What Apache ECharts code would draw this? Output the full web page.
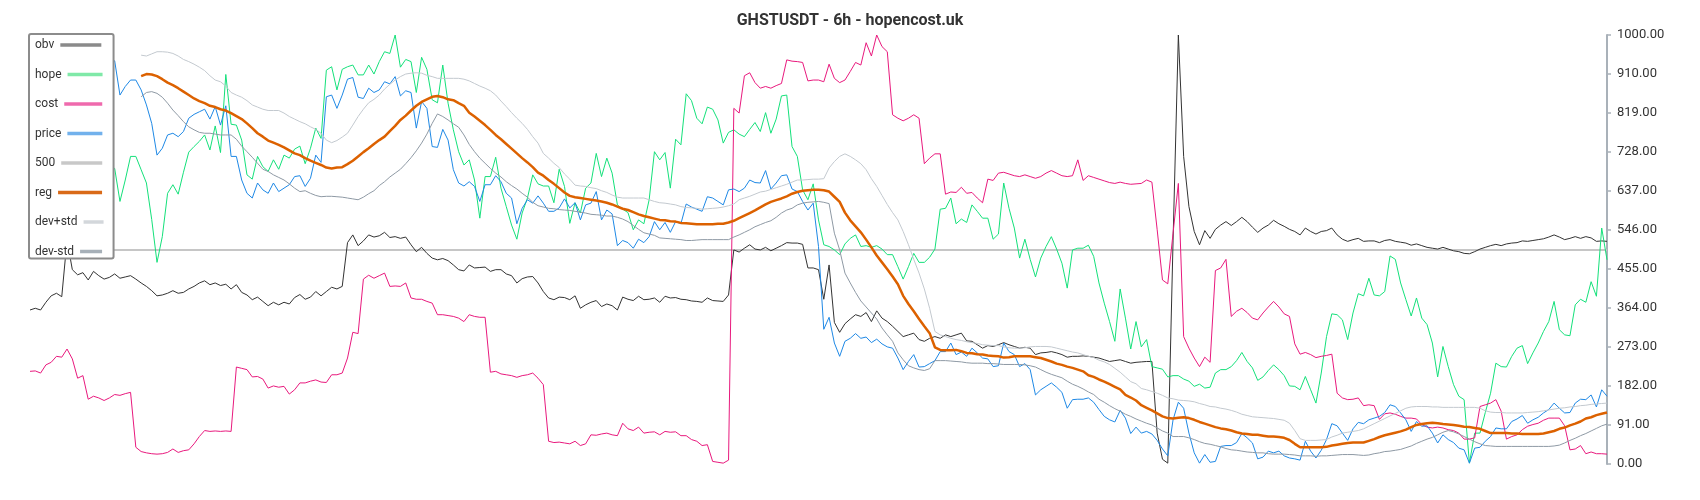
<!DOCTYPE html>
<html>
<head>
<meta charset="utf-8">
<script src="https://cdn.jsdelivr.net/npm/echarts@6/dist/echarts.min.js"></script>
<style>html,body{margin:0;padding:0;background:#fff}#chart{width:1700px;height:500px}</style>
</head>
<body>
<div id="chart"></div>
<script>
const TITLE = 'GHSTUSDT - 6h - hopencost.uk';
const SERIES_NAMES = ['obv', 'hope', 'cost', 'price', '500', 'reg', 'dev+std', 'dev-std'];
const Y_MIN = 0, Y_MAX = 1000, Y_STEP = 91;
const LEVEL_500 = 500;
const POINT_COUNT = 299;
const categories = [];
for (let i = 0; i < POINT_COUNT; i++) categories.push(String(i));

const obv = [
359,363,359,377,392,398,390,522,453,441,
446,429,449,439,431,435,443,433,436,439,
431,422,414,404,392,394,398,404,398,400,
408,414,422,427,418,422,416,419,408,418,
400,394,383,389,379,369,377,371,377,373,
388,395,
384,389,402,392,402,412,408,414,516,534,
509,520,534,529,532,540,528,530,526,529,
511,495,505,491,480,476,479,474,464,453,
450,464,457,458,459,449,453,453,443,439,
422,432,436,437,422,402,387,383,389,388,
383,
392,363,371,377,381,367,373,369,359,389,
384,381,391,383,384,387,377,391,387,388,
384,383,380,379,377,387,381,380,379,394,
499,494,503,511,501,499,505,497,503,509,
516,515,515,512,457,457,453,384,464,330,
307,
327,338,348,344,353,332,357,340,332,321,
309,297,301,305,290,286,293,297,293,301,
297,301,305,287,286,278,270,276,274,278,
283,278,274,270,272,270,255,259,260,262,
259,255,249,251,251,252,251,249,
247,243,239,241,243,239,235,237,238,239,
239,72,11,2,520,1000,717,600,542,511,
544,526,547,557,565,556,565,575,565,552,
540,550,557,568,560,554,547,542,534,550,
542,536,542,544,550,534,524,519,523,526,
519,520,520,516,
521,523,519,517,515,510,513,509,505,503,
501,505,501,497,495,491,490,495,501,505,
509,512,509,513,515,516,520,519,521,523,
525,529,534,529,523,526,530,526,530,527,
519,520,519
];

const hope = [
700,712,690,722,740,735,758,745,730,716,702,690,706,720,700,
693,689,612,662,717,717,686,655,570,470,
530,631,651,629,680,727,740,752,767,732,
788,726,908,792,790,755,674,664,717,693,
682,709,687,720,713,734,741,
700,736,783,759,918,926,872,920,926,930,
907,907,930,909,938,961,957,1000,925,943,
938,866,948,920,849,842,930,841,779,728,
697,709,662,573,670,670,715,643,600,557,
524,585,620,674,653,648,648,609,687,647,
561,
609,585,643,655,724,670,713,678,604,594,
586,546,569,560,616,728,709,726,643,757,
744,863,847,806,793,832,827,802,748,773,
779,769,763,780,796,775,819,771,804,858,
860,740,717,639,616,653,569,511,507,499,
488,
513,526,534,507,509,505,509,501,488,488,
460,431,460,491,470,470,482,501,594,596,
620,560,571,563,604,589,573,573,524,536,
655,596,550,480,524,477,436,480,507,530,
501,468,410,499,503,503,510,484,
422,375,332,286,408,340,268,332,273,290,
227,224,221,203,206,206,198,193,181,186,
177,179,212,220,220,227,241,260,239,224,
195,203,218,231,220,206,182,181,173,204,
173,142,212,297,350,348,336,290,352,397,
392,433,394,392,
402,485,477,422,383,345,387,340,325,282,
203,274,227,185,158,150,2,72,72,120,
165,235,227,226,251,270,276,234,259,282,
309,332,379,313,301,299,371,384,377,425,
391,550,476
];

const cost = [
216,217,212,231,237,251,249,268,245,200,
206,151,158,154,148,154,162,160,164,167,
39,29,26,24,23,24,27,35,27,31,
33,47,64,78,76,77,76,77,76,226,
223,220,203,204,198,177,182,179,181,163,
173,189,
189,193,196,191,190,208,208,212,247,307,
304,431,440,433,439,445,414,415,414,422,
387,384,384,379,375,348,348,346,344,340,
332,348,344,342,342,214,216,210,208,206,
202,206,208,212,200,185,53,50,51,49,
47,
53,43,47,68,67,70,72,68,66,95,
82,78,86,72,74,75,68,76,74,75,
66,66,57,53,43,45,6,4,2,9,
829,818,905,912,889,876,880,876,882,887,
942,939,938,936,893,895,895,891,932,899,
889,
895,915,936,930,982,951,1000,973,961,814,
806,800,806,814,806,700,713,723,723,629,
634,633,645,631,633,620,609,664,661,678,
680,676,672,670,674,670,666,670,678,684,
678,672,670,672,709,661,672,668,
664,660,656,654,657,654,652,653,654,662,
657,546,429,420,538,654,297,270,247,227,
249,237,451,457,477,344,356,363,353,340,
336,352,366,379,366,350,344,280,256,260,
255,248,251,253,256,165,154,150,151,154,
136,138,136,104,
117,119,116,111,107,107,105,92,86,84,
86,84,80,78,72,58,58,61,134,138,
142,150,123,58,64,68,80,88,92,95,
102,107,107,107,89,33,35,43,24,28,
24,24,23
];

const price = [
905,915,930,920,908,925,940,930,915,925,935,920,930,940,935,
936,940,860,880,895,895,872,837,794,720,
736,767,771,763,775,806,815,821,827,804,
833,790,835,717,717,662,631,620,655,639,
631,655,635,643,651,670,672,
647,666,720,703,856,860,829,860,897,901,
855,852,876,866,872,891,886,903,858,870,
866,783,845,829,740,738,780,755,686,655,
648,658,647,612,651,651,672,658,631,620,
560,596,616,608,625,608,589,589,597,618,
597,
609,569,604,608,635,569,592,583,509,521,
516,503,524,516,530,565,546,563,540,565,
560,606,599,594,589,623,620,612,604,639,
641,635,643,662,656,655,684,641,655,672,
674,641,635,612,592,608,507,314,342,282,
251,
286,293,304,293,296,283,291,280,273,270,
247,220,239,255,226,227,234,241,262,262,
282,255,261,251,270,259,247,245,227,229,
282,262,255,227,234,220,161,173,181,189,
179,167,130,150,151,151,154,144,
127,111,103,98,125,107,71,86,72,76,
70,55,35,19,103,144,130,72,26,2,
22,4,6,41,43,43,50,71,61,49,
12,16,30,26,30,19,14,12,9,53,
30,14,32,57,94,89,72,55,82,97,
94,103,107,111,
120,138,134,119,103,76,99,88,89,72,
49,68,57,50,37,33,2,37,39,53,
64,84,82,82,99,105,113,95,103,109,
119,127,142,130,119,120,142,151,150,161,
133,173,158
];

const reg = [
null,null,null,null,null,null,null,null,null,null,
null,null,null,null,null,null,null,null,null,null,null,
904,909,908,904,897,889,883,876,868,860,
852,846,841,835,832,827,824,818,811,804,
794,783,771,763,754,749,744,738,731,724,
720,
713,707,702,697,691,689,691,692,699,707,
717,727,736,746,755,763,776,788,802,812,
824,835,844,850,856,858,855,850,848,841,
835,819,810,800,790,779,767,757,746,735,
724,713,703,692,679,672,662,653,643,633,
625,
622,620,618,616,614,612,609,605,600,595,
592,587,582,578,575,572,569,568,566,565,
562,561,560,559,559,559,559,560,560,563,
567,573,579,585,591,598,605,611,615,619,
624,630,634,637,638,639,639,638,635,623,
611,
586,568,554,540,523,505,486,470,454,437,
419,392,373,356,338,321,305,272,266,265,
265,266,263,259,258,256,255,253,252,251,
248,249,251,251,251,251,249,247,243,239,
234,231,227,224,220,216,207,203,
197,192,186,180,174,161,155,148,137,131,
125,118,111,107,106,108,109,107,103,98,
94,90,86,83,81,78,74,71,70,68,
68,66,64,64,63,61,56,47,39,39,
39,39,39,40,43,45,47,49,50,50,
50,54,58,63,
67,70,73,76,80,86,91,93,95,96,
95,93,92,91,89,87,86,84,82,77,
72,72,72,72,71,71,70,70,70,70,
71,74,77,82,85,90,94,99,106,109,
114,117,120
];

const devPlus = [
null,null,null,null,null,null,null,null,null,null,
null,null,null,null,null,null,null,null,null,null,null,
953,951,956,961,961,960,957,951,943,938,
932,925,917,905,895,891,881,866,860,855,
847,837,832,827,824,824,824,818,810,804,
798,
793,786,780,771,755,749,754,762,771,790,
810,827,842,850,860,874,885,895,903,909,
911,912,911,906,903,899,899,899,899,899,
897,893,887,881,876,870,860,846,833,819,
806,794,780,763,748,724,713,701,691,676,
664,
650,648,647,644,642,637,633,627,622,620,
620,620,620,620,616,612,609,608,606,604,
600,598,597,596,594,595,596,597,599,602,
606,616,620,624,629,634,636,640,644,648,
652,657,662,662,663,664,664,665,690,705,
717,
723,717,709,700,686,665,647,626,605,586,
569,542,511,477,445,408,363,309,301,297,
293,290,288,285,283,281,278,277,276,276,
273,271,270,270,271,273,274,274,274,273,
270,267,264,261,259,255,251,248,
242,238,232,223,214,203,192,187,176,173,
169,165,160,154,152,149,148,147,145,141,
138,134,133,130,128,125,121,116,113,110,
109,108,107,106,104,102,95,78,59,55,
55,55,56,57,63,67,72,74,76,78,
82,88,94,100,
106,112,118,124,130,133,134,134,134,133,
133,132,132,132,132,132,132,132,130,124,
121,120,120,119,119,119,119,120,121,122,
124,126,128,130,131,133,134,136,137,139,
140,141,142
];

const devMinus = [
null,null,null,null,null,null,null,null,null,null,
null,null,null,null,null,null,null,null,null,null,null,
856,866,868,864,855,841,825,812,798,786,
779,773,771,771,769,767,767,767,757,741,
728,715,701,687,682,674,668,662,653,643,
635,
637,631,626,623,624,624,623,622,620,618,
616,622,630,637,649,658,669,678,687,700,
714,730,748,769,794,816,810,802,793,785,
767,745,728,713,701,689,678,669,658,649,
641,631,622,610,602,599,596,595,593,592,
591,
589,587,585,582,581,580,578,578,575,571,
565,556,547,539,536,533,527,526,525,524,
523,521,521,522,523,523,523,523,523,523,
529,534,540,546,553,558,563,567,575,585,
592,596,604,608,610,611,612,610,607,538,
499,
445,422,400,380,366,352,338,317,301,286,
259,243,229,224,220,218,222,241,241,241,
240,239,238,236,235,235,235,234,234,233,
232,232,232,232,231,229,226,220,214,209,
205,201,193,186,181,175,168,162,
151,144,136,129,123,116,111,105,100,95,
91,84,77,72,64,64,64,61,57,52,
48,46,43,40,36,33,32,30,28,27,
26,26,24,23,23,23,22,21,19,19,
19,18,19,19,20,21,22,22,22,21,
20,21,24,26,
29,30,32,34,38,42,48,53,58,62,
68,74,78,75,70,64,58,52,47,43,
42,41,41,41,41,41,41,41,41,41,
41,41,42,44,49,55,60,66,71,77,
83,89,93
];

const LINE_COLORS = {
  'obv': '#333333', 'hope': '#14e07a', 'cost': '#e8197d', 'price': '#1e88e5',
  '500': '#c6c6c6', 'reg': '#dc6100', 'dev+std': '#c3c9cf', 'dev-std': '#8e99a4'
};
const LEGEND_COLORS = ['#8a8a8a', '#80e9a8', '#ef6aad', '#72b1ec', '#c8c8c8', '#d96a18', '#d3d7db', '#a7b0b8'];
const LEGEND_BAR_LEN = [41, 35, 38, 35, 41, 44, 20, 22];

const rich = { t: { fontSize: 12, color: '#333', fontFamily: 'Roboto' }, g: { width: 6 } };
LEGEND_BAR_LEN.forEach((w, i) => {
  rich['b' + i] = { width: w, height: 3.5, backgroundColor: LEGEND_COLORS[i] };
});

function lineSeries(name, data, width) {
  return {
    name, type: 'line', data, showSymbol: false, symbol: 'none', silent: true, z: 2,
    lineStyle: { color: LINE_COLORS[name], width },
    itemStyle: { color: LINE_COLORS[name] },
    emphasis: { disabled: true }
  };
}

const chart = echarts.init(document.getElementById('chart'), null, { renderer: 'canvas' });
chart.setOption({
  animation: false,
  textStyle: { fontFamily: 'Roboto' },
  title: {
    text: TITLE, left: 'center', top: 8,
    textStyle: { fontSize: 16, fontWeight: 'bold', color: '#333', fontFamily: 'Roboto' }
  },
  legend: {
    orient: 'vertical', left: 29, top: 34, z: 10,
    data: SERIES_NAMES, icon: 'none', itemWidth: 0, itemHeight: 14, itemGap: 16.5,
    padding: [4, 10, 1, 1],
    backgroundColor: '#fff', borderColor: '#8c8c8c', borderWidth: 2, borderRadius: 2,
    selectedMode: false,
    formatter: name => '{t|' + name + '}{g|}{b' + SERIES_NAMES.indexOf(name) + '|}',
    textStyle: { color: '#333', fontSize: 12, fontFamily: 'Roboto', rich }
  },
  grid: { left: 30, right: 93, top: 35, bottom: 36 },
  xAxis: { type: 'category', data: categories, boundaryGap: false, show: false },
  yAxis: {
    type: 'value', position: 'right', min: Y_MIN, max: Y_MAX, interval: Y_STEP,
    splitLine: { show: false },
    axisLine: { show: true, lineStyle: { color: '#a9b1b9', width: 2 } },
    axisTick: { show: true, length: 4, lineStyle: { color: '#a9b1b9', width: 1.5 } },
    axisLabel: { color: '#333', fontSize: 13, margin: 10, fontFamily: 'Roboto', formatter: v => v.toFixed(2) }
  },
  series: [
    lineSeries('obv', obv, 1),
    lineSeries('hope', hope, 1),
    lineSeries('cost', cost, 1),
    lineSeries('price', price, 1),
    {
      name: '500', type: 'line', data: [], silent: true, z: 2,
      lineStyle: { color: LINE_COLORS['500'] }, itemStyle: { color: LINE_COLORS['500'] },
      markLine: {
        z: 2, silent: true, symbol: ['none', 'none'], label: { show: false },
        lineStyle: { color: LINE_COLORS['500'], width: 2, type: 'solid' },
        emphasis: { disabled: true },
        data: [{ yAxis: LEVEL_500 }]
      }
    },
    lineSeries('reg', reg, 2.5),
    lineSeries('dev+std', devPlus, 1),
    lineSeries('dev-std', devMinus, 1)
  ]
});
</script>
</body>
</html>
